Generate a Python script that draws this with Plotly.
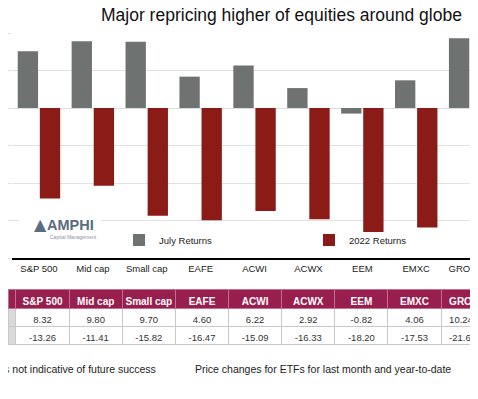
import plotly.graph_objects as go

categories = ["S&P 500", "Mid cap", "Small cap", "EAFE", "ACWI", "ACWX", "EEM", "EMXC", "GROWTH"]
july_returns = [8.32, 9.80, 9.70, 4.60, 6.22, 2.92, -0.82, 4.06, 10.24]
ytd_returns = [-13.26, -11.41, -15.82, -16.47, -15.09, -16.33, -18.20, -17.53, -21.65]
series_names = ["July Returns", "2022 Returns"]
y_tick_vals = [11, 5.5, 0, -5.5, -11, -16.5, -22]
y_tick_text = ["11", "5.5", "0", "-5.5", "-11", "-16.5", "-22"]
title_text = "Major repricing higher of equities around globe"
note_left = "Past performance is not indicative of future success"
note_right = "Price changes for ETFs for last month and year-to-date"

# the page body adds an 8px margin; size the figure so the page does not scroll
OFF = 8
W, H = 478 - OFF, 381
GRAY = "#6e7270"
RED = "#8a1b16"
MAROON = "#981e4e"
FONT = "Liberation Sans, Arial, Helvetica, sans-serif"

def py(p):
    return 1 - (p - OFF) / H

def px(p):
    return (p - OFF) / W

fig = go.Figure()
fig.add_trace(go.Bar(x=categories, y=july_returns, name=series_names[0],
                     marker=dict(color=GRAY, line=dict(width=0))))
fig.add_trace(go.Bar(x=categories, y=ytd_returns, name=series_names[1],
                     marker=dict(color=RED, line=dict(width=0))))

# table; header labels go in as plain-text prefixes (non-breaking spaces keep one line)
header_labels = [""] + [c.replace(" ", "\u00a0") for c in categories]
col_july = [f"{v:.2f}" for v in july_returns]
col_ytd = [f"{v:.2f}" for v in ytd_returns]
cell_vals = [["", ""]] + [[a, b] for a, b in zip(col_july, col_ytd)]
ncol = len(header_labels)
aligns = ["center"] * (ncol - 1) + ["left"]
fig.add_trace(go.Table(
    domain=dict(x=[0, 1], y=[py(378), py(289)]),
    columnwidth=[8] + [53.3] * 8 + [37],
    header=dict(values=[""] * ncol, prefix=header_labels, fill_color=MAROON,
                line=dict(color="#c2708f", width=1), align=aligns,
                font=dict(color="white", size=10, family=FONT, weight="bold"),
                height=19),
    cells=dict(values=cell_vals,
               fill_color=[["#d9d9d9", "#d9d9d9"]] + [["white", "white"]] * (ncol - 1),
               line=dict(color="#c8c8c8", width=1), align=aligns,
               font=dict(color="#333333", size=9.5, family=FONT),
               height=18),
))

fig.update_layout(
    width=W, height=H,
    margin=dict(l=0, r=0, t=0, b=0, autoexpand=False),
    paper_bgcolor="white", plot_bgcolor="white",
    barmode="group", bargap=0.18, bargroupgap=0.08,
    font=dict(family=FONT, color="#222222"),
    xaxis=dict(domain=[px(12), 1], range=[-0.5, 8.146], showline=True, linecolor="black",
               linewidth=1.5, tickfont=dict(size=9.5, color="#222222"), ticks="", ticklen=0,
               ticklabelstandoff=1, showgrid=False, fixedrange=True, automargin=False),
    yaxis=dict(domain=[py(258), py(33)], range=[-22, 11], tickvals=y_tick_vals,
               ticktext=y_tick_text, showgrid=True, gridcolor="#e2e2e2", gridwidth=1,
               zeroline=True, zerolinecolor="#dcdcdc", zerolinewidth=1,
               tickfont=dict(size=10, color="#555555"), ticks="outside", ticklen=4,
               tickcolor="#dddddd", ticklabelstandoff=4, automargin=False),
    legend=dict(orientation="h", x=px(119), y=py(240), xanchor="left", yanchor="middle",
                entrywidth=145, entrywidthmode="pixels", bgcolor="rgba(0,0,0,0)",
                font=dict(size=9.5, color="#222222"), itemsizing="constant"),
    showlegend=True,
)

fig.add_annotation(text=title_text, xref="paper", yref="paper", x=px(281), y=py(15),
                   xanchor="center", yanchor="middle", showarrow=False,
                   font=dict(size=17.5, color="#111111", family=FONT))

# logo
fig.add_shape(type="rect", xref="paper", yref="paper", x0=px(19), x1=px(101), y0=py(240), y1=py(211),
              fillcolor="white", line=dict(width=0), layer="above")
fig.add_annotation(text="▲", xref="paper", yref="paper", x=px(32), y=py(225), showarrow=False,
                   yanchor="middle", font=dict(size=16, color="#5b6b80", family="DejaVu Sans"))
fig.add_annotation(text="<b>AMPHI</b>", xref="paper", yref="paper", x=px(45), y=py(225),
                   xanchor="left", yanchor="middle", showarrow=False,
                   font=dict(size=14.5, color="#5b6b80", family=FONT))
fig.add_annotation(text="Capital Management", xref="paper", yref="paper", x=px(48), y=py(236.5),
                   xanchor="left", yanchor="middle", showarrow=False,
                   font=dict(size=5, color="#8a96a6", family=FONT))

fig.add_annotation(text=note_left, xref="paper", yref="paper", x=px(158), y=py(369),
                   xanchor="right", yanchor="middle", showarrow=False,
                   font=dict(size=10.5, color="#222222"))
fig.add_annotation(text=note_right, xref="paper", yref="paper", x=px(193), y=py(369),
                   xanchor="left", yanchor="middle", showarrow=False,
                   font=dict(size=10.5, color="#222222"))

fig.write_html("out.html")
